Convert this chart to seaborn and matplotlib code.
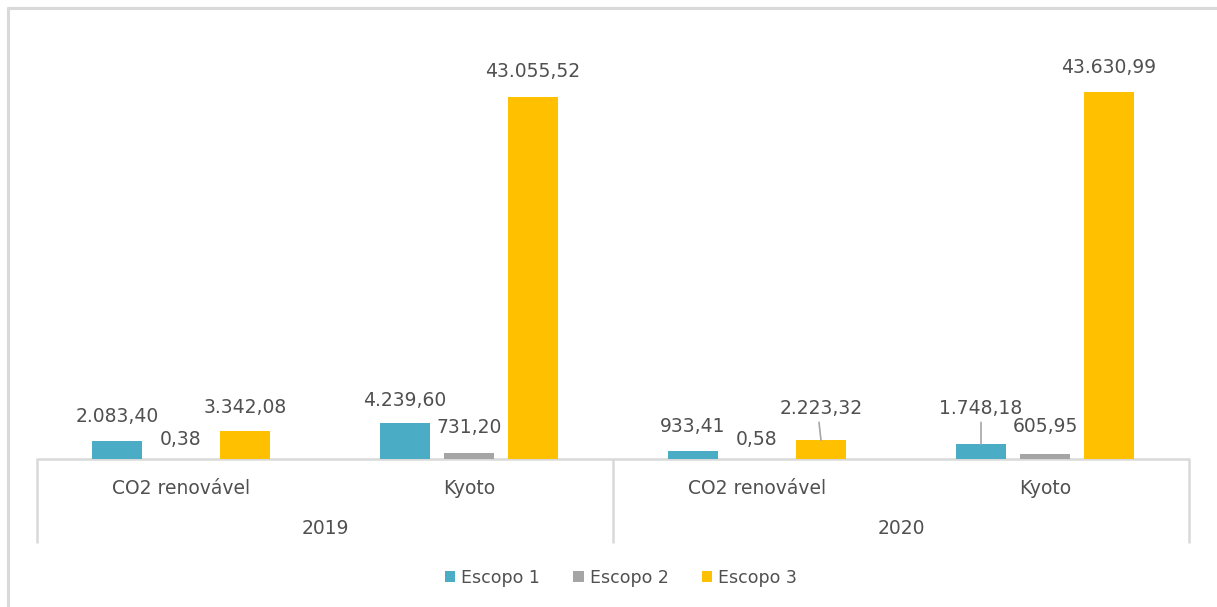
import matplotlib
matplotlib.use("Agg")
import matplotlib.pyplot as plt
from matplotlib.patches import Patch
import seaborn as sns
import pandas as pd

# ---- data ----
years = ["2019", "2019", "2020", "2020"]
categories = ["CO2 renovável", "Kyoto", "CO2 renovável", "Kyoto"]
series = ["Escopo 1", "Escopo 2", "Escopo 3"]
escopo1 = [2083.40, 4239.60, 933.41, 1748.18]
escopo2 = [0.38, 731.20, 0.58, 605.95]
escopo3 = [3342.08, 43055.52, 2223.32, 43630.99]
colors = ["#4BACC6", "#A5A5A5", "#FFC000"]

# label vertical offsets (pixels above bar top) and leader lines
label_offsets = {
    "Escopo 1": [25, 23, 25, 36],
    "Escopo 2": [19, 25, 19, 27],
    "Escopo 3": [23, 25, 32, 25],
}
leaders = {("Escopo 3", 2), ("Escopo 1", 3)}

keys = [f"{y}|{c}" for y, c in zip(years, categories)]
rows = []
for s, vals in zip(series, [escopo1, escopo2, escopo3]):
    for k, v in zip(keys, vals):
        rows.append({"key": k, "serie": s, "valor": v})
df = pd.DataFrame(rows)

sns.set_style("white")
plt.rcParams["font.family"] = ["DejaVu Sans"]
txt = "#505050"
line_c = "#D9D9D9"

W, H = 1217, 607
fig = plt.figure(figsize=(W / 100, H / 100), dpi=100)
left, right, base, top = 37, 1189, 459, 20
ax = fig.add_axes([left / W, 1 - base / H, (right - left) / W, (base - top) / H])

sns.barplot(data=df, x="key", y="valor", hue="serie", order=keys, hue_order=series,
            palette=colors, width=0.6667, gap=0.215, ax=ax, legend=False,
            saturation=1, errorbar=None, linewidth=0)

ax.set_xlim(-0.5, 3.5)
ax.set_ylim(0, 52200)
for sp in ax.spines.values():
    sp.set_visible(False)
ax.set_xticks([])
ax.set_yticks([])
ax.set_xlabel("")
ax.set_ylabel("")

# baseline
ax.axhline(0, color=line_c, lw=1.8, zorder=0, clip_on=False)

# data labels
def fmt(v):
    s = f"{v:,.2f}"
    return s.replace(",", "X").replace(".", ",").replace("X", ".")

for s, cont in zip(series, ax.containers):
    for i, bar in enumerate(cont):
        v = bar.get_height()
        xc = bar.get_x() + bar.get_width() / 2
        off = label_offsets[s][i]
        ax.annotate(fmt(v), (xc, v), xytext=(0, off), textcoords="offset pixels",
                    ha="center", va="center", fontsize=13.5, color=txt)
        if (s, i) in leaders:
            ax.annotate("", (xc, v), xytext=(-2 if i == 2 else 0, off - 14),
                        textcoords="offset pixels",
                        arrowprops=dict(arrowstyle="-", color="#A6A6A6", lw=1.2,
                                        shrinkA=0, shrinkB=0))

# multi-level category axis
tr = ax.get_xaxis_transform()
hpx = base - top
ax.vlines([-0.5, 1.5, 3.5], 0, -84 / hpx, transform=tr, colors=line_c, lw=1.8,
          clip_on=False)
for i, c in enumerate(categories):
    ax.text(i, -29 / hpx, c, transform=tr, ha="center", va="center",
            fontsize=13.5, color=txt)
for j, y in enumerate(["2019", "2020"]):
    ax.text(0.5 + 2 * j, -69 / hpx, y, transform=tr, ha="center", va="center",
            fontsize=13.5, color=txt)

# legend
handles = [Patch(facecolor=c, edgecolor="none", label=s) for c, s in zip(colors, series)]
fig.legend(handles=handles, loc="center", bbox_to_anchor=(621 / W, 1 - 578 / H), ncol=3,
           frameon=False, fontsize=12.5, handlelength=0.6, handleheight=0.6,
           handletextpad=0.35, columnspacing=1.9, labelcolor=txt)

# chart border (top and left visible)
fig.add_artist(plt.Line2D([8 / W, 1.0], [1 - 8 / H, 1 - 8 / H], color=line_c, lw=2.2,
                          transform=fig.transFigure))
fig.add_artist(plt.Line2D([8 / W, 8 / W], [1 - 8 / H, 0], color=line_c, lw=2.2,
                          transform=fig.transFigure))

fig.savefig("out.png", dpi=100)
